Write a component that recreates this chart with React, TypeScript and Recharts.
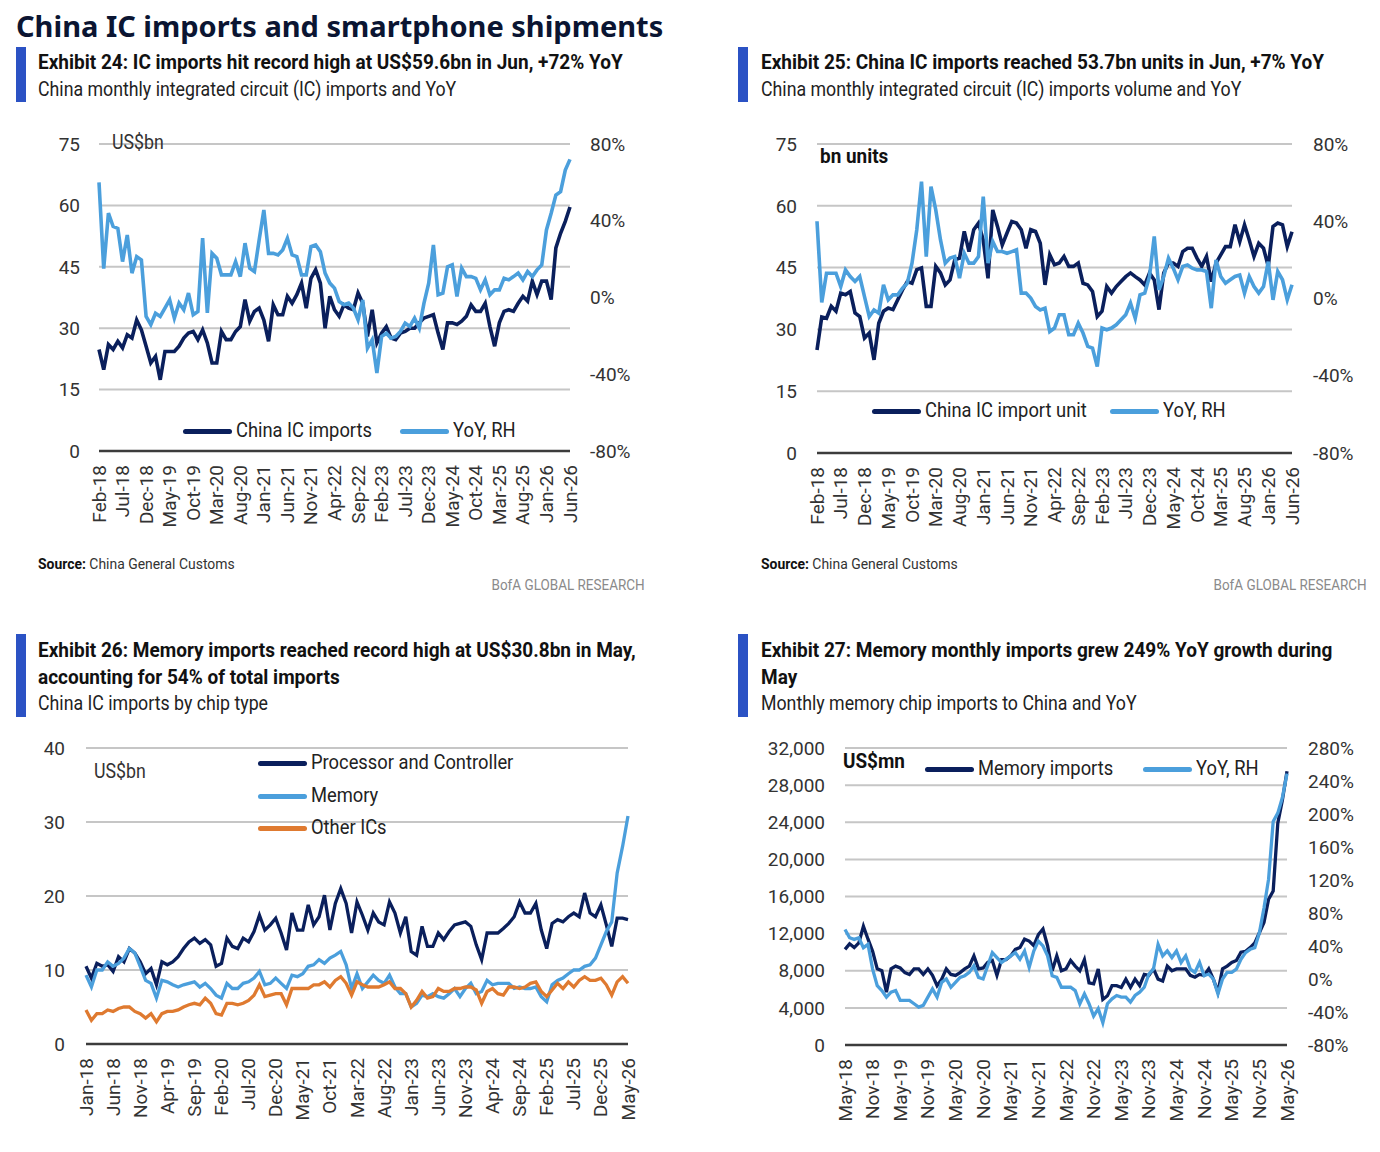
import { LineChart, Line, XAxis, YAxis, CartesianGrid } from "recharts";

const NAVY = "#0a1f5c";
const SKY = "#4b9fdc";
const ORANGE = "#df7a30";
const BAR = "#2b52c4";
const GRID = "#c6c6c6";
const AXIS = "#3c3c3c";
const TICK = "#333333";
const FONT = "Roboto, 'Noto Sans', sans-serif";

const MONTHS = ["Jan", "Feb", "Mar", "Apr", "May", "Jun", "Jul", "Aug", "Sep", "Oct", "Nov", "Dec"];

// month labels like "Feb-18"
function monthLabels(year: number, month: number, count: number) {
  const out: string[] = [];
  for (let i = 0; i < count; i++) {
    const m = (month + i) % 12;
    const y = year + Math.floor((month + i) / 12);
    out.push(`${MONTHS[m]}-${String(y % 100).padStart(2, "0")}`);
  }
  return out;
}

const icMonths = monthLabels(2018, 1, 101); // Feb-18 .. Jun-26
const chipMonths = monthLabels(2018, 0, 101); // Jan-18 .. May-26
const memMonths = monthLabels(2018, 4, 97); // May-18 .. May-26

// Exhibit 24, US$bn and YoY %
const icImports = [
  24.8, 19.9, 26, 24.8, 26.8, 25.2, 28.4, 27.6, 32, 29.6,
  25.6, 21.5, 23.1, 17.4, 24.3, 24.3, 24.3, 25.6, 27.6, 28.8,
  29.2, 27.2, 29.6, 26.4, 21.5, 21.5, 29.2, 27.2, 27.2, 29.2,
  30.4, 37, 31.7, 34.1, 34.9, 32, 26.8, 35.7, 33.3, 33.3,
  37.8, 36.1, 38.2, 41, 34.9, 42.2, 44.3, 41, 30, 37.8,
  34.5, 32.9, 35.7, 34.9, 34.5, 38.6, 36.1, 28, 34.5, 26.4,
  28.8, 30.4, 27.6, 27.2, 28.8, 29.2, 30, 30, 31.3, 32.5,
  32.9, 33.3, 28.8, 24.8, 31.3, 31.3, 30.9, 31.7, 32.9, 35.7,
  34.1, 34.1, 36.1, 30.4, 25.6, 31.3, 34.1, 34.5, 34.1, 36.1,
  37.8, 36.6, 41.5, 38.2, 41.5, 41.5, 37, 49.6, 53.2, 56.1,
  59.6,
];
const icYoY = [
  60, 15, 44, 37, 36, 18.7, 32.6, 12.7, 21.3, 19.6,
  -9.9, -14.2, -8.2, -9.9, -5.5, -1.2, -10.8, -2.9, -6.4, 2.3,
  -9, -7.3, 31, -8, 23, 20.5, 11.8, 11.8, 11.8, 18.7,
  10.9, 28.3, 15.3, 13.5, 30, 45.6, 23, 23, 22.2, 24.8,
  30.9, 22.2, 21.3, 11.8, 11.8, 26.5, 27.4, 23.9, 12.7, 7.5,
  4.9, -2.1, -3.8, -2.9, -5.5, -11.6, -1.2, -26.4, -22, -39.4,
  -20.3, -18.6, -21.2, -20.3, -17.7, -13.4, -15.1, -10.8, -16, -2.9,
  7.5, 27.4, 1.4, 2.3, 16, 17, 0.5, 15.3, 10.9, 10.9,
  10, 4, 9.2, 1.4, 4, 4, 10, 9.2, 10.9, 12.7,
  9.2, 13.5, 10.9, 14.4, 17, 35.2, 43.9, 53.4, 55.2, 66.4,
  72,
];

// Exhibit 25, bn units and YoY %
const unitImports = [
  25, 33, 32.7, 35.6, 34.4, 38.8, 38.4, 39.2, 34, 33.1,
  27.9, 29.1, 22.6, 31.5, 34.4, 35.2, 34.8, 37.2, 39.6, 41.6,
  41.2, 44.5, 44.9, 35.6, 35.6, 45.3, 43.7, 40.8, 42, 46.9,
  47.3, 53.8, 48.9, 54.2, 55.8, 51.7, 42.4, 59, 55, 50.5,
  53.4, 56.2, 55.8, 54.2, 49.7, 54.2, 53.8, 50.9, 40.8, 48.1,
  45.7, 46.1, 47.7, 45.3, 45.3, 46.1, 41.2, 40.8, 39.2, 33.1,
  34.4, 40.4, 38.8, 40.4, 41.6, 42.8, 43.7, 42.8, 42, 40.8,
  43.7, 42, 34.8, 43.7, 46.1, 46.1, 45.3, 48.9, 49.7, 49.7,
  47.3, 45.3, 47.7, 41.6, 46.1, 48.1, 50.1, 50.1, 55.4, 51.3,
  55.4, 51.7, 47.7, 50.9, 49.7, 45.3, 55, 55.8, 55.4, 50.1,
  53.7,
];
const unitYoY = [
  40, -2, 13.1, 13.1, 13.1, 6.2, 14.8, 11.4, 8.8, 11.4,
  1, -9.3, -5.9, -7.6, 7.1, -0.7, 1.9, 1.9, 5.3, 7.9,
  18.3, 35.5, 60.5, 21.7, 57.9, 45.9, 30.3, 18.3, 20.9, 21.7,
  10.5, 23.4, 18.3, 18.3, 21.7, 52.8, 18.3, 29.5, 24.3, 24.3,
  23.4, 24.3, 25.2, 2.8, 2.8, 0.2, -4.1, -5.9, -5, -17.1,
  -15.3, -8.4, -8.4, -18.8, -18.8, -12.8, -17.9, -24.8, -25.7, -35.2,
  -15.3, -16.2, -15.3, -13.6, -11, -8.4, -2.4, -10.2, 1.9, 2.8,
  11.4, 32.1, 4.5, 11.4, 20.9, 15.7, 9.7, 16.6, 17.4, 15.7,
  14.8, 14.8, 14, -5, 20, 11.4, 7.9, 9.7, 11.4, 12.2,
  2.8, 11.4, 6.2, 2.8, 6.2, 19.1, -0.7, 14, 9.7, -0.7,
  7.1,
];

// Exhibit 26, US$bn by chip type
const procCtrl = [
  10.5, 8.9, 10.9, 10.5, 10.7, 9.8, 11.8, 11.1, 12.9, 12.3,
  11.1, 9.5, 10.2, 8, 11.1, 10.7, 11.1, 11.8, 12.9, 13.8,
  14.3, 13.6, 14.1, 13.4, 10.5, 10.9, 14.3, 13.2, 12.9, 14.3,
  13.8, 15.2, 17.4, 15.4, 16.1, 17, 15, 12.7, 17.7, 15.4,
  15.4, 18.8, 16.1, 17.2, 20.1, 15.4, 19, 21, 19, 15,
  19.2, 17.4, 15.4, 17.7, 16.5, 16.1, 19.2, 17.7, 15, 17.2,
  12.5, 12, 15.9, 13.2, 13.2, 15, 14.1, 15.2, 16.1, 16.3,
  16.5, 15.9, 13.4, 11.4, 15, 15, 15, 15.6, 16.3, 17.2,
  19.2, 17.7, 17.7, 19, 15.4, 12.9, 16.3, 16.8, 16.5, 17.2,
  17.7, 17.2, 20.4, 17.7, 17.2, 18.8, 16.1, 13.2, 17, 17,
  16.8,
];
const memory = [
  9.3, 7.7, 10, 10, 11.1, 10.5, 10.9, 11.6, 12.9, 12.3,
  10.5, 8.6, 8.2, 6.2, 8.6, 8.4, 8, 7.7, 8, 8.2,
  8.4, 7.7, 8.2, 7.5, 6.6, 6.2, 8.2, 7.5, 7.5, 8.2,
  8.4, 8.9, 9.8, 8, 8.2, 8.9, 8.2, 7.5, 9.3, 9.1,
  9.5, 10.5, 10.7, 11.4, 10.9, 11.6, 12, 12.5, 10.7, 7.5,
  9.5, 7.5, 8.4, 9.3, 8.6, 8.2, 9.3, 7.7, 6.8, 6.8,
  5, 5.5, 6.6, 6.4, 6.8, 6.4, 6.2, 6.8, 7.5, 6.4,
  7.5, 8.2, 6.8, 7.1, 8.6, 8, 8.2, 8.2, 8.2, 7.5,
  7.7, 7.5, 7.5, 7.7, 6.4, 5.7, 8, 8.6, 8.9, 9.5,
  10, 10, 10.5, 10.7, 11.6, 13.4, 15.2, 16.5, 23.1, 26.7,
  30.8,
];
const otherICs = [
  4.6, 3.2, 4.1, 4.1, 4.6, 4.4, 4.8, 5, 5, 4.4,
  4.1, 3.5, 4.1, 3, 4.1, 4.4, 4.4, 4.6, 5, 5.3,
  5.5, 5.3, 6.2, 5.5, 4.1, 3.9, 5.5, 5.5, 5.3, 5.5,
  5.9, 6.6, 8, 6.4, 6.6, 6.8, 6.8, 5.3, 7.5, 7.5,
  7.5, 7.5, 8, 8, 8.4, 7.7, 8.6, 9.1, 8.2, 6.6,
  8.4, 8, 7.7, 7.7, 7.7, 8, 8.4, 7.5, 7.5, 6.8,
  5, 5.9, 7.1, 6.2, 6.4, 7.5, 7.1, 7.1, 7.5, 7.5,
  7.7, 7.7, 7.3, 5.5, 7.1, 7.5, 6.8, 6.6, 7.7, 7.7,
  7.5, 7.7, 8.2, 8.4, 7.1, 6.4, 7.3, 8.2, 7.5, 8.4,
  7.7, 8.6, 9.1, 8.6, 8.6, 8.9, 8, 6.6, 8.4, 9.1,
  8.2,
];

// Exhibit 27, US$mn and YoY %
const memImports = [
  10300, 10900, 10500, 11000, 12800, 11400, 10100, 8200, 8000, 5700,
  8200, 8500, 8300, 7800, 7600, 8200, 8200, 7600, 8200, 7500,
  6400, 7100, 8200, 7600, 7500, 7800, 8200, 8500, 9600, 8200,
  8300, 8900, 9100, 7500, 9200, 9200, 9600, 10300, 10500, 11400,
  11200, 10700, 11900, 12500, 10700, 8000, 9600, 8000, 8200, 9100,
  8500, 8000, 9200, 6700, 6600, 8200, 4900, 5300, 6400, 6400,
  6200, 7100, 6200, 7100, 6400, 7600, 7500, 8200, 7100, 6900,
  8500, 8000, 8200, 8200, 8200, 7500, 7300, 7600, 7500, 8200,
  7100, 5700, 8200, 8500, 8900, 9100, 10000, 10100, 10500, 11000,
  12100, 13200, 15700, 16600, 23900, 26400, 29500,
];
const memYoY = [
  60, 50, 48, 50, 38, 42, 12, -8, -14, -22,
  -16, -14, -26, -26, -26, -30, -34, -32, -22, -12,
  -22, -4, 0, -10, -4, 2, 4, 8, 16, 2,
  0, 16, 32, 26, 20, 24, 28, 32, 24, 34,
  14, 34, 46, 40, 28, 4, 2, -10, -10, -10,
  -14, -30, -18, -30, -45, -36, -53, -30, -24, -20,
  -22, -22, -28, -20, -16, -10, 6, 12, 42, 28,
  34, 26, 34, 20, 28, 12, 8, 20, 4, 6,
  0, -18, 0, 8, 8, 12, 24, 32, 36, 38,
  56, 86, 121, 191, 201, 220, 249,
];

const icTicksL = [0, 15, 30, 45, 60, 75];
const icTicksR = [-80, -40, 0, 40, 80];
const chipTicks = [0, 10, 20, 30, 40];
const memTicksL = [0, 4000, 8000, 12000, 16000, 20000, 24000, 28000, 32000];
const memTicksR = [-80, -40, 0, 40, 80, 120, 160, 200, 240, 280];

const icRows = icMonths.map((m, i) => ({ m, a: icImports[i], b: icYoY[i] }));
const unitRows = icMonths.map((m, i) => ({ m, a: unitImports[i], b: unitYoY[i] }));
const chipRows = chipMonths.map((m, i) => ({ m, p: procCtrl[i], mem: memory[i], o: otherICs[i] }));
const memRows = memMonths.map((m, i) => ({ m, a: memImports[i], b: memYoY[i] }));

const tickStyle = { fill: TICK, fontSize: 19, fontFamily: FONT };
const pct = (v: number) => `${v}%`;
const thousands = (v: number) => v.toLocaleString("en-US");

const XTick = ({ x, y, payload }: any) => (
  <text
    x={x}
    y={y}
    transform={`rotate(-90 ${x} ${y})`}
    textAnchor="end"
    dominantBaseline="central"
    fill={TICK}
    fontSize={19}
    fontFamily={FONT}
  >
    {payload.value}
  </text>
);

type TxtProps = {
  x: number;
  y: number;
  size?: number;
  bold?: boolean;
  color?: string;
  sx?: number;
  right?: boolean;
  family?: string;
  children: any;
};

// text placed by its vertical centre; sx squeezes it to mimic the condensed face
const Txt = ({ x, y, size = 19.5, bold, color = "#1a1a1a", sx = 0.91, right, family = FONT, children }: TxtProps) => (
  <div
    style={{
      position: "absolute",
      top: y - size * 0.6,
      ...(right ? { right: 1380 - x } : { left: x }),
      fontSize: size,
      lineHeight: `${size * 1.2}px`,
      fontWeight: bold ? 700 : 400,
      fontFamily: family,
      color,
      whiteSpace: "nowrap",
      transform: `scaleX(${sx})`,
      transformOrigin: right ? "right center" : "left center",
    }}
  >
    {children}
  </div>
);

// exhibit headline, bold
const Head = ({ x, y, children }: { x: number; y: number; children: any }) => (
  <Txt x={x} y={y} bold color="#111" sx={0.975}>
    {children}
  </Txt>
);

const Bar = ({ x, y, h }: { x: number; y: number; h: number }) => (
  <div style={{ position: "absolute", left: x, top: y, width: 10, height: h, background: BAR }} />
);

const Key = ({ x, y, color, label }: { x: number; y: number; color: string; label: string }) => (
  <>
    <div style={{ position: "absolute", left: x, top: y - 2.5, width: 49, height: 5, borderRadius: 3, background: color }} />
    <Txt x={x + 53} y={y} size={19.5} color="#222" sx={0.94}>
      {label}
    </Txt>
  </>
);

const Source = ({ x }: { x: number }) => (
  <Txt x={x} y={565} size={14.5} color="#333" sx={0.96}>
    <b style={{ color: "#111" }}>Source:</b> China General Customs
  </Txt>
);

const Brand = ({ x }: { x: number }) => (
  <Txt x={x} y={586} size={14.5} color="#8a8a8a" sx={0.93} right>
    BofA GLOBAL RESEARCH
  </Txt>
);

const Box = ({ left, top, children }: any) => (
  <div style={{ position: "absolute", left, top }}>{children}</div>
);

export default function App() {
  return (
    <div style={{ position: "relative", width: 1380, height: 1152, margin: -8, background: "#fff", fontFamily: FONT }}>
      <Txt x={16} y={26} size={29} bold color="#0b1532" sx={1} family="'Noto Sans', Roboto, sans-serif">
        China IC imports and smartphone shipments
      </Txt>

      {/* Exhibit 24 */}
      <Bar x={16} y={47} h={55} />
      <Head x={38} y={63}>Exhibit 24: IC imports hit record high at US$59.6bn in Jun, +72% YoY</Head>
      <Txt x={38} y={90} color="#222">China monthly integrated circuit (IC) imports and YoY</Txt>
      <Box left={20} top={130}>
        <LineChart width={620} height={401} data={icRows} margin={{ top: 14, right: 0, bottom: 0, left: 0 }}>
          <CartesianGrid yAxisId="l" vertical={false} stroke={GRID} strokeWidth={2} />
          <XAxis dataKey="m" interval={4} height={80} tickLine={false} tickSize={0} tickMargin={14}
            axisLine={{ stroke: AXIS, strokeWidth: 2.5 }} tick={<XTick />} />
          <YAxis yAxisId="l" width={79} domain={[0, 75]} ticks={icTicksL} interval={0} axisLine={false}
            tickLine={false} tickSize={0} tickMargin={19} tick={tickStyle} />
          <YAxis yAxisId="r" orientation="right" width={70} domain={[-80, 80]} ticks={icTicksR} interval={0}
            axisLine={false} tickLine={false} tickSize={0} tickMargin={20} tick={tickStyle} tickFormatter={pct} />
          <Line yAxisId="l" dataKey="a" stroke={NAVY} strokeWidth={3.6} dot={false} isAnimationActive={false} />
          <Line yAxisId="r" dataKey="b" stroke={SKY} strokeWidth={3.6} dot={false} isAnimationActive={false} />
        </LineChart>
      </Box>
      <Txt x={112} y={143} color="#333">US$bn</Txt>
      <Key x={183} y={431} color={NAVY} label="China IC imports" />
      <Key x={400} y={431} color={SKY} label="YoY, RH" />
      <Source x={38} />
      <Brand x={645} />

      {/* Exhibit 25 */}
      <Bar x={738} y={47} h={55} />
      <Head x={761} y={63}>Exhibit 25: China IC imports reached 53.7bn units in Jun, +7% YoY</Head>
      <Txt x={761} y={90} color="#222">China monthly integrated circuit (IC) imports volume and YoY</Txt>
      <Box left={740} top={130}>
        <LineChart width={620} height={403} data={unitRows} margin={{ top: 14, right: 0, bottom: 0, left: 0 }}>
          <CartesianGrid yAxisId="l" vertical={false} stroke={GRID} strokeWidth={2} />
          <XAxis dataKey="m" interval={4} height={80} tickLine={false} tickSize={0} tickMargin={14}
            axisLine={{ stroke: AXIS, strokeWidth: 2.5 }} tick={<XTick />} />
          <YAxis yAxisId="l" width={77} domain={[0, 75]} ticks={icTicksL} interval={0} axisLine={false}
            tickLine={false} tickSize={0} tickMargin={20} tick={tickStyle} />
          <YAxis yAxisId="r" orientation="right" width={68} domain={[-80, 80]} ticks={icTicksR} interval={0}
            axisLine={false} tickLine={false} tickSize={0} tickMargin={21} tick={tickStyle} tickFormatter={pct} />
          <Line yAxisId="l" dataKey="a" stroke={NAVY} strokeWidth={3.6} dot={false} isAnimationActive={false} />
          <Line yAxisId="r" dataKey="b" stroke={SKY} strokeWidth={3.6} dot={false} isAnimationActive={false} />
        </LineChart>
      </Box>
      <Txt x={820} y={157} bold color="#111" sx={0.97}>bn units</Txt>
      <Key x={872} y={411} color={NAVY} label="China IC import unit" />
      <Key x={1110} y={411} color={SKY} label="YoY, RH" />
      <Source x={761} />
      <Brand x={1367} />

      {/* Exhibit 26 */}
      <Bar x={16} y={634} h={83} />
      <Head x={38} y={651}>Exhibit 26: Memory imports reached record high at US$30.8bn in May,</Head>
      <Head x={38} y={678}>accounting for 54% of total imports</Head>
      <Txt x={38} y={704} color="#222">China IC imports by chip type</Txt>
      <Box left={20} top={735}>
        <LineChart width={620} height={389} data={chipRows} margin={{ top: 13, right: 12, bottom: 0, left: 0 }}>
          <CartesianGrid vertical={false} stroke={GRID} strokeWidth={2} />
          <XAxis dataKey="m" interval={4} height={80} tickLine={false} tickSize={0} tickMargin={14}
            axisLine={{ stroke: AXIS, strokeWidth: 2.5 }} tick={<XTick />} />
          <YAxis width={66} domain={[0, 40]} ticks={chipTicks} interval={0} axisLine={false}
            tickLine={false} tickSize={0} tickMargin={21} tick={tickStyle} />
          <Line dataKey="p" stroke={NAVY} strokeWidth={3.3} dot={false} isAnimationActive={false} />
          <Line dataKey="mem" stroke={SKY} strokeWidth={3.3} dot={false} isAnimationActive={false} />
          <Line dataKey="o" stroke={ORANGE} strokeWidth={3.3} dot={false} isAnimationActive={false} />
        </LineChart>
      </Box>
      <Txt x={94} y={772} color="#333">US$bn</Txt>
      <Key x={258} y={763} color={NAVY} label="Processor and Controller" />
      <Key x={258} y={796} color={SKY} label="Memory" />
      <Key x={258} y={828} color={ORANGE} label="Other ICs" />

      {/* Exhibit 27 */}
      <Bar x={738} y={634} h={83} />
      <Head x={761} y={651}>Exhibit 27: Memory monthly imports grew 249% YoY growth during</Head>
      <Head x={761} y={678}>May</Head>
      <Txt x={761} y={704} color="#222">Monthly memory chip imports to China and YoY</Txt>
      <Box left={740} top={735}>
        <LineChart width={620} height={390} data={memRows} margin={{ top: 13, right: 0, bottom: 0, left: 0 }}>
          <CartesianGrid yAxisId="l" vertical={false} stroke={GRID} strokeWidth={2} />
          <XAxis dataKey="m" interval={5} height={80} tickLine={false} tickSize={0} tickMargin={14}
            axisLine={{ stroke: AXIS, strokeWidth: 2.5 }} tick={<XTick />} />
          <YAxis yAxisId="l" width={105} domain={[0, 32000]} ticks={memTicksL} interval={0} axisLine={false}
            tickLine={false} tickSize={0} tickMargin={20} tick={tickStyle} tickFormatter={thousands} />
          <YAxis yAxisId="r" orientation="right" width={73} domain={[-80, 280]} ticks={memTicksR} interval={0}
            axisLine={false} tickLine={false} tickSize={0} tickMargin={21} tick={tickStyle} tickFormatter={pct} />
          <Line yAxisId="l" dataKey="a" stroke={NAVY} strokeWidth={3.3} dot={false} isAnimationActive={false} />
          <Line yAxisId="r" dataKey="b" stroke={SKY} strokeWidth={3.3} dot={false} isAnimationActive={false} />
        </LineChart>
      </Box>
      <Txt x={843} y={762} bold color="#111" sx={0.97}>US$mn</Txt>
      <Key x={925} y={769} color={NAVY} label="Memory imports" />
      <Key x={1143} y={769} color={SKY} label="YoY, RH" />
    </div>
  );
}
